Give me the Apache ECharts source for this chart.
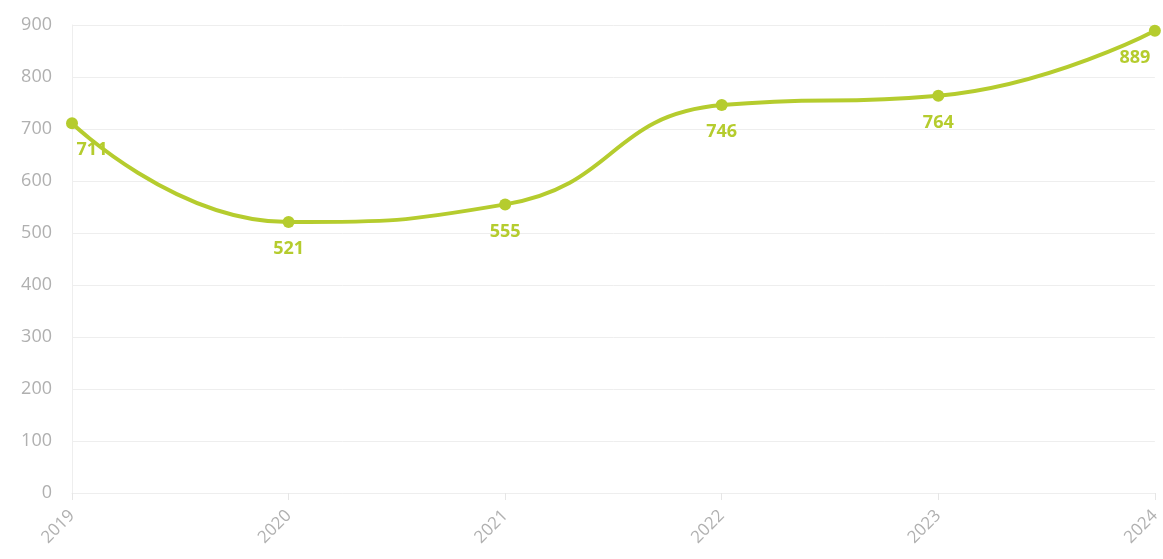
<!DOCTYPE html>
<html><head><meta charset="utf-8">
<script src="https://cdn.jsdelivr.net/npm/echarts@6/dist/echarts.min.js"></script>
<style>html,body{margin:0;padding:0;background:#fff}#c{width:1163px;height:559px}</style>
</head><body><div id="c"></div>
<script>
const years = ['2019','2020','2021','2022','2023','2024'];
const values = [711, 521, 555, 746, 764, 889];
const yTicks = {min: 0, max: 900, interval: 100};
const color = '#b5cc2e';
const n = values.length;
const data = values.map((v, i) => {
  const item = {value: v};
  if (i === 0) item.label = {offset: [20, 0]};
  if (i === n - 1) item.label = {offset: [-20, 0]};
  return item;
});
const chart = echarts.init(document.getElementById('c'));
chart.setOption({
  animation: false,
  grid: {left: 72, right: 8, top: 25, bottom: 66, containLabel: false},
  xAxis: {
    type: 'category', data: years, boundaryGap: false,
    axisLine: {lineStyle: {color: '#eeeeee'}},
    axisTick: {show: true, length: 7, lineStyle: {color: '#e6e6e6'}},
    axisLabel: {rotate: 45, color: '#b0b0b0', fontSize: 17, fontFamily: 'Open Sans', margin: 20},
    splitLine: {show: false}
  },
  yAxis: {
    type: 'value', min: yTicks.min, max: yTicks.max, interval: yTicks.interval,
    axisLine: {show: true, lineStyle: {color: '#eeeeee'}},
    axisTick: {show: false},
    axisLabel: {color: '#b0b0b0', fontSize: 18, fontFamily: 'Open Sans', margin: 20},
    splitLine: {lineStyle: {color: '#eeeeee'}}
  },
  series: [{
    type: 'line', data: data, smooth: 0.5,
    symbol: 'circle', symbolSize: 12,
    lineStyle: {color: color, width: 4},
    itemStyle: {color: color},
    label: {show: true, position: 'bottom', distance: 12, color: color, fontWeight: 'bold', fontSize: 18, fontFamily: 'Open Sans'}
  }]
});
</script></body></html>
